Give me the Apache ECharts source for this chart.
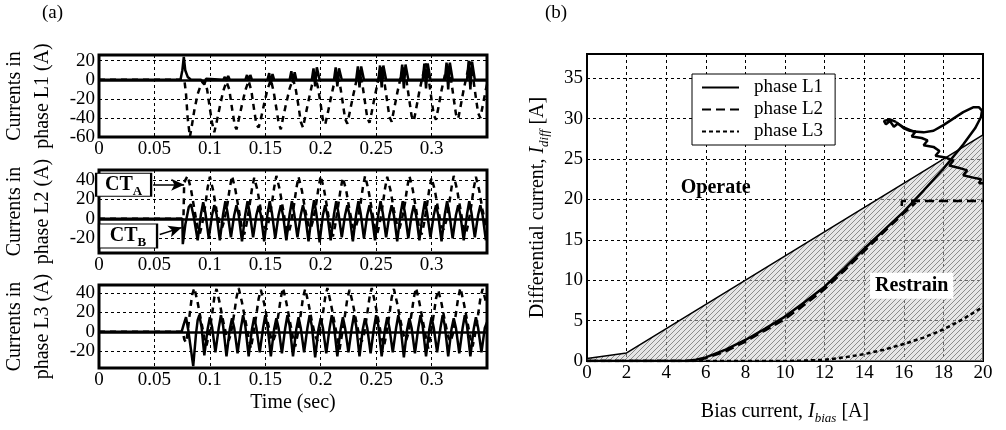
<!DOCTYPE html>
<html>
<head>
<meta charset="utf-8">
<script src="https://cdn.jsdelivr.net/npm/echarts@6/dist/echarts.min.js"></script>
<style>
html, body { margin: 0; padding: 0; background: #fff; }
#main { width: 1006px; height: 430px; }
</style>
</head>
<body>
<div id="main"></div>
<script>
// (a) currents in the three phases, [time (s), current (A)]
// solid = CT_B, dashed = CT_A
const l1CtB = [
  [0,0],[0.0735,0],[0.0752,10],[0.0765,24],[0.0778,10],[0.080,3],[0.083,0],
  [0.092,0],[0.0935,-2],[0.095,-5],[0.0965,1],[0.098,0],
  [0.112,0],[0.1135,3],[0.115,-1],[0.1165,4],[0.118,0],
  [0.132,0],[0.1335,5],[0.135,-1],[0.1365,5],[0.138,0],
  [0.152,0],[0.1535,7],[0.155,-5],[0.1565,6],[0.158,0],
  [0.172,0],[0.1735,9],[0.175,-3],[0.1765,8],[0.178,0],
  [0.192,0],[0.1935,12],[0.195,-7],[0.1965,13],[0.199,0],
  [0.212,0],[0.2135,13],[0.215,-7],[0.2165,12],[0.219,0],
  [0.232,0],[0.2335,14],[0.235,-8],[0.2365,14],[0.239,0],
  [0.252,0],[0.2535,15],[0.255,-8],[0.2565,15],[0.259,0],
  [0.272,0],[0.2735,16],[0.275,-9],[0.2765,16],[0.279,0],
  [0.292,0],[0.2935,17],[0.295,-9],[0.2965,17],[0.299,0],
  [0.312,0],[0.3135,18],[0.315,-10],[0.3165,18],[0.319,0],
  [0.332,0],[0.3335,20],[0.335,-10],[0.3365,19],[0.339,0],
  [0.35,0]
];
const l1CtA = [
  [0,0],[0.077,0],[0.0785,-15],[0.080,-40],[0.082,-60],[0.0835,-50],[0.086,-32],[0.089,-15],[0.092,-5],[0.095,-1],
  [0.0975,-10],[0.100,-30],[0.102,-45],[0.104,-55],[0.106,-45],[0.109,-28],[0.112,-12],[0.115,-2],
  [0.1175,-10],[0.120,-30],[0.1225,-48],[0.124,-52],[0.126,-42],[0.129,-26],[0.132,-11],[0.135,-1],
  [0.1375,-12],[0.140,-32],[0.142,-47],[0.144,-50],[0.146,-41],[0.149,-25],[0.152,-10],[0.155,0],
  [0.1575,-12],[0.160,-30],[0.162,-45],[0.164,-52],[0.166,-40],[0.169,-24],[0.172,-9],[0.175,1],
  [0.1775,-10],[0.180,-28],[0.182,-44],[0.184,-50],[0.186,-39],[0.189,-22],[0.192,-6],[0.195,4],
  [0.1975,-8],[0.200,-26],[0.202,-42],[0.204,-47],[0.206,-37],[0.209,-20],[0.212,-4],[0.215,7],
  [0.2175,-6],[0.220,-25],[0.222,-41],[0.224,-46],[0.226,-35],[0.229,-18],[0.232,-2],[0.235,10],
  [0.2375,-4],[0.240,-24],[0.242,-40],[0.244,-45],[0.246,-34],[0.249,-16],[0.252,0],[0.255,13],
  [0.2575,-3],[0.260,-23],[0.262,-39],[0.264,-44],[0.266,-32],[0.269,-14],[0.272,2],[0.275,15],
  [0.2775,-2],[0.280,-22],[0.282,-38],[0.284,-43],[0.286,-31],[0.289,-12],[0.292,4],[0.295,17],
  [0.2975,0],[0.300,-21],[0.302,-37],[0.304,-42],[0.306,-30],[0.309,-11],[0.312,5],[0.315,18],
  [0.3175,1],[0.320,-20],[0.322,-36],[0.324,-41],[0.326,-29],[0.329,-10],[0.332,6],[0.335,19],
  [0.3375,2],[0.340,-19],[0.342,-35],[0.344,-40],[0.346,-28],[0.349,-10],[0.35,-5]
];
const l2CtB = [
  [0,0],[0.0752,0],[0.0756,-26],[0.078,-5],[0.081,12],[0.083,15],[0.0855,2],
  [0.089,-22],[0.092,5],[0.094,17],[0.096,6],
  [0.099,-20],[0.102,4],[0.104,14],[0.106,5],
  [0.109,-22],[0.112,5],[0.114,18],[0.116,6],
  [0.119,-19],[0.122,4],[0.124,14],[0.126,4],
  [0.129,-23],[0.132,5],[0.134,18],[0.136,6],
  [0.139,-19],[0.142,4],[0.144,13],[0.146,4],
  [0.149,-23],[0.152,5],[0.154,18],[0.156,6],
  [0.159,-20],[0.162,4],[0.164,14],[0.166,4],
  [0.169,-22],[0.172,5],[0.174,18],[0.176,6],
  [0.179,-19],[0.182,4],[0.184,14],[0.186,4],
  [0.189,-23],[0.192,5],[0.194,19],[0.196,6],
  [0.199,-24],[0.202,4],[0.204,14],[0.206,4],
  [0.209,-22],[0.212,5],[0.214,18],[0.216,6],
  [0.219,-19],[0.222,4],[0.224,14],[0.226,4],
  [0.229,-23],[0.232,5],[0.234,18],[0.236,6],
  [0.239,-20],[0.242,4],[0.244,14],[0.246,4],
  [0.249,-22],[0.252,5],[0.254,18],[0.256,6],
  [0.259,-19],[0.262,4],[0.264,14],[0.266,4],
  [0.269,-23],[0.272,5],[0.274,18],[0.276,6],
  [0.279,-20],[0.282,4],[0.284,14],[0.286,4],
  [0.289,-22],[0.292,5],[0.294,18],[0.296,6],
  [0.299,-19],[0.302,4],[0.304,14],[0.306,4],
  [0.309,-23],[0.312,5],[0.314,18],[0.316,6],
  [0.319,-20],[0.322,4],[0.324,14],[0.326,4],
  [0.329,-22],[0.332,5],[0.334,18],[0.336,6],
  [0.339,-19],[0.342,4],[0.344,14],[0.346,4],
  [0.349,-22]
];
const l2CtA = [
  [0,0],[0.0762,0],[0.0768,36],[0.078,40],
  [0.080,44],[0.083,30],[0.086,10],[0.089,-10],[0.091,-15],[0.093,-6],[0.096,15],[0.098,32],
  [0.100,43],[0.103,29],[0.106,9],[0.109,-6],[0.111,-9],[0.113,-2],[0.116,16],[0.118,32],
  [0.120,44],[0.123,30],[0.126,10],[0.129,-10],[0.131,-16],[0.133,-6],[0.136,15],[0.138,31],
  [0.140,42],[0.143,29],[0.146,9],[0.149,-8],[0.151,-11],[0.153,-3],[0.156,16],[0.158,32],
  [0.160,44],[0.163,30],[0.166,10],[0.169,-10],[0.171,-15],[0.173,-6],[0.176,15],[0.178,31],
  [0.180,43],[0.183,29],[0.186,9],[0.189,-7],[0.191,-10],[0.193,-2],[0.196,16],[0.198,32],
  [0.200,44],[0.203,30],[0.206,10],[0.209,-12],[0.211,-18],[0.213,-7],[0.216,15],[0.218,31],
  [0.220,42],[0.223,29],[0.226,9],[0.229,-8],[0.231,-11],[0.233,-3],[0.236,16],[0.238,32],
  [0.240,44],[0.243,30],[0.246,10],[0.249,-10],[0.251,-15],[0.253,-6],[0.256,15],[0.258,31],
  [0.260,43],[0.263,29],[0.266,9],[0.269,-7],[0.271,-10],[0.273,-2],[0.276,16],[0.278,32],
  [0.280,44],[0.283,30],[0.286,10],[0.289,-11],[0.291,-16],[0.293,-6],[0.296,15],[0.298,31],
  [0.300,42],[0.303,29],[0.306,9],[0.309,-8],[0.311,-11],[0.313,-3],[0.316,16],[0.318,32],
  [0.320,44],[0.323,30],[0.326,10],[0.329,-10],[0.331,-15],[0.333,-6],[0.336,15],[0.338,31],
  [0.340,43],[0.343,29],[0.346,9],[0.349,-7],[0.35,-9]
];
const l3CtB = [
  [0,0],[0.0745,0],[0.0765,8],[0.0785,15],[0.0805,2],[0.085,-35],
  [0.0875,-2],[0.089,12],[0.0905,17],[0.0925,5],
  [0.095,-24],[0.098,3],[0.100,15],[0.102,5],
  [0.105,-21],[0.108,4],[0.110,17],[0.112,6],
  [0.115,-25],[0.118,3],[0.120,14],[0.122,4],
  [0.125,-22],[0.128,4],[0.130,17],[0.132,6],
  [0.135,-25],[0.138,3],[0.140,15],[0.142,4],
  [0.145,-21],[0.148,4],[0.150,17],[0.152,6],
  [0.155,-25],[0.158,3],[0.160,14],[0.162,4],
  [0.165,-22],[0.168,4],[0.170,17],[0.172,6],
  [0.175,-25],[0.178,3],[0.180,15],[0.182,4],
  [0.185,-21],[0.188,4],[0.190,17],[0.192,6],
  [0.195,-26],[0.198,3],[0.200,14],[0.202,4],
  [0.205,-22],[0.208,4],[0.210,17],[0.212,6],
  [0.215,-25],[0.218,3],[0.220,15],[0.222,4],
  [0.225,-21],[0.228,4],[0.230,17],[0.232,6],
  [0.235,-25],[0.238,3],[0.240,14],[0.242,4],
  [0.245,-22],[0.248,4],[0.250,17],[0.252,6],
  [0.255,-25],[0.258,3],[0.260,15],[0.262,4],
  [0.265,-21],[0.268,4],[0.270,17],[0.272,6],
  [0.275,-26],[0.278,3],[0.280,14],[0.282,4],
  [0.285,-22],[0.288,4],[0.290,17],[0.292,6],
  [0.295,-25],[0.298,3],[0.300,15],[0.302,4],
  [0.305,-21],[0.308,4],[0.310,17],[0.312,6],
  [0.315,-25],[0.318,3],[0.320,14],[0.322,4],
  [0.325,-22],[0.328,4],[0.330,17],[0.332,6],
  [0.335,-25],[0.338,3],[0.340,15],[0.342,4],
  [0.345,-21],[0.348,4],[0.35,10]
];
const l3CtA = [
  [0,0],[0.0755,0],[0.077,-8],[0.0785,-11],[0.080,0],[0.082,20],[0.084,38],
  [0.086,45],[0.089,30],[0.092,12],[0.095,-6],[0.097,-14],[0.099,-4],[0.102,18],[0.104,35],
  [0.106,44],[0.109,29],[0.112,11],[0.115,-4],[0.117,-9],[0.119,-2],[0.122,19],[0.124,35],
  [0.126,45],[0.129,30],[0.132,12],[0.135,-6],[0.137,-17],[0.139,-4],[0.142,18],[0.144,34],
  [0.146,43],[0.149,29],[0.152,11],[0.155,-5],[0.157,-10],[0.159,-3],[0.162,19],[0.164,35],
  [0.166,45],[0.169,30],[0.172,12],[0.175,-6],[0.177,-15],[0.179,-4],[0.182,18],[0.184,35],
  [0.186,44],[0.189,29],[0.192,11],[0.195,-4],[0.197,-9],[0.199,-2],[0.202,19],[0.204,35],
  [0.206,45],[0.209,30],[0.212,12],[0.215,-6],[0.217,-18],[0.219,-4],[0.222,18],[0.224,34],
  [0.226,43],[0.229,29],[0.232,11],[0.235,-5],[0.237,-10],[0.239,-3],[0.242,19],[0.244,35],
  [0.246,45],[0.249,30],[0.252,12],[0.255,-6],[0.257,-15],[0.259,-4],[0.262,18],[0.264,35],
  [0.266,44],[0.269,29],[0.272,11],[0.275,-4],[0.277,-9],[0.279,-2],[0.282,19],[0.284,35],
  [0.286,45],[0.289,30],[0.292,12],[0.295,-6],[0.297,-17],[0.299,-4],[0.302,18],[0.304,34],
  [0.306,43],[0.309,29],[0.312,11],[0.315,-5],[0.317,-10],[0.319,-3],[0.322,19],[0.324,35],
  [0.326,45],[0.329,30],[0.332,12],[0.335,-6],[0.337,-15],[0.339,-4],[0.342,18],[0.344,34],
  [0.346,44],[0.349,31],[0.35,27]
];
const yTicksL2 = [-20, 0, 20, 40];
const yTicksL3 = [-20, 0, 20, 40];

// (b) differential current vs bias current, [I_bias, I_diff]
const charCurve = [[0,0.3],[2,1],[20,28]];
const l1Bias = [
  [0,0],[5,0],[5.5,0.15],[6,0.45],[7,1.4],[8,2.6],[9,4],[10,5.5],[11,7.3],[12,9.2],[13,11.5],
  [14,13.9],[15,16.2],[16,18.5],[17,21.1],[18,23.8],[19,26.8],[19.6,28.8],[19.9,30.2],[19.95,31.0],
  [19.8,31.4],[19.5,31.4],[19.0,30.8],[18.5,30.0],[18.0,29.2],[17.5,28.5],[17.0,28.3],[16.5,28.4],
  [16.0,28.9],[15.7,29.4],[15.5,29.0],[15.3,29.7],[15.1,29.3],[15.0,29.7],[15.3,29.9],[15.6,29.6]
];
const l1BiasTail = [
  [15.6,29.6],[16.0,28.8],[16.3,28.5],[16.6,28.4],[16.4,27.8],[16.9,27.6],[17.2,27.3],[17.0,26.7],
  [17.5,26.5],[17.8,26.0],[17.6,25.4],[18.1,25.2],[18.5,24.8],[18.3,24.2],[18.8,23.9],[19.2,23.6],
  [19.0,23.0],[19.5,22.7],[19.9,22.5],[19.8,22.0],[20,22.0]
];
const l2Bias = [
  [0,0],[5.5,0],[6,0.35],[7,1.2],[8,2.4],[9,3.8],[10,5.2],[11,7.0],[12,8.9],[13,11.2],
  [14,13.6],[15,16.0],[16,18.3],[16.6,19.6]
];
const l2BiasFlat = [[15.9,19.2],[15.9,19.8],[20,19.8]];
const l3Bias = [
  [0,0],[8,0],[10,0],[11,0.05],[12,0.15],[13,0.45],[14,0.85],[15,1.4],[16,2.1],[17,2.9],
  [18,3.9],[19,5.2],[20,6.7]
];

var chart = echarts.init(document.getElementById('main'));
var font = '"Liberation Serif", "Times New Roman", serif';
var black = '#000';

// hatched fill for the restrain area
var hatch = document.createElement('canvas');
hatch.width = 5; hatch.height = 5;
var hc = hatch.getContext('2d');
hc.fillStyle = 'rgba(205,205,205,0.5)';
hc.fillRect(0, 0, 5, 5);
hc.strokeStyle = 'rgba(110,110,110,0.75)';
hc.lineWidth = 1;
hc.beginPath(); hc.moveTo(0, 5); hc.lineTo(5, 0); hc.stroke();
hc.beginPath(); hc.moveTo(-1, 1); hc.lineTo(1, -1); hc.stroke();
hc.beginPath(); hc.moveTo(4, 6); hc.lineTo(6, 4); hc.stroke();

var gridLine = { show: true, lineStyle: { color: black, type: [3, 3], width: 1 } };
var tickFont = { color: black, fontFamily: font, fontSize: 19 };

function leftX(i, name) {
  return {
    type: 'value', gridIndex: i, min: 0, max: 0.35, interval: 0.05,
    axisLine: { show: false }, axisTick: { show: false },
    axisLabel: Object.assign({ margin: 3, showMaxLabel: false }, tickFont),
    splitLine: gridLine,
    name: name || '', nameLocation: 'middle', nameGap: 25,
    nameTextStyle: { color: black, fontFamily: font, fontSize: 20 }
  };
}
function leftY(i, phase, min, max, ticks) {
  var ax = {
    type: 'value', gridIndex: i, min: min, max: max,
    axisLine: { show: false },
    axisTick: { show: false },
    axisLabel: Object.assign({ margin: 4, showMaxLabel: !!ticks, showMinLabel: true }, tickFont),
    splitLine: gridLine,
    name: 'Currents in\nphase ' + phase + ' (A)', nameLocation: 'middle', nameRotate: 90, nameGap: 42,
    nameTextStyle: { color: black, fontFamily: font, fontSize: 20, lineHeight: 28 }
  };
  if (ticks) {
    ax.axisLabel.customValues = ticks;
    ax.axisTick.customValues = ticks;
  } else {
    ax.interval = 20;
  }
  return ax;
}
var zeroLine = {
  silent: true, symbol: ['none', 'none'], label: { show: false }, animation: false,
  lineStyle: { color: black, type: 'solid', width: 2.5 }, data: [{ yAxis: 0 }]
};
function wave(i, data, dashed, extra) {
  return Object.assign({
    type: 'line', xAxisIndex: i, yAxisIndex: i, data: data, symbol: 'none',
    animation: false, silent: true,
    lineStyle: { color: black, width: 2.5, type: dashed ? [6, 5] : 'solid' }
  }, extra || {});
}
var ctRich = {
  b: { fontFamily: font, fontSize: 20, fontWeight: 'bold', color: black, lineHeight: 20 },
  s: { fontFamily: font, fontSize: 13, fontWeight: 'bold', color: black, verticalAlign: 'bottom', lineHeight: 26 }
};
var subRich = {
  i: { fontFamily: font, fontSize: 20, fontStyle: 'italic', color: black, lineHeight: 20 },
  s: { fontFamily: font, fontSize: 13, fontStyle: 'italic', color: black, verticalAlign: 'bottom', lineHeight: 27 }
};
function biasLine(name, data, type) {
  return {
    name: name, type: 'line', xAxisIndex: 3, yAxisIndex: 3, data: data,
    symbol: 'none', silent: true, animation: false,
    itemStyle: { color: black },
    lineStyle: { color: black, width: 2.5, type: type }
  };
}

var option = {
  backgroundColor: '#fff',
  animation: false,
  title: [
    { text: '(a)', left: 42, top: 4, padding: 0, textStyle: { fontFamily: font, fontSize: 19, fontWeight: 'normal', color: black } },
    { text: '(b)', left: 545, top: 4, padding: 0, textStyle: { fontFamily: font, fontSize: 19, fontWeight: 'normal', color: black } }
  ],
  legend: {
    data: ['phase L1', 'phase L2', 'phase L3'],
    orient: 'vertical', left: 692, top: 74, selectedMode: false,
    backgroundColor: '#fff', borderColor: black, borderWidth: 1,
    padding: [4, 12, 4, 9], itemGap: 3, itemWidth: 37, itemHeight: 16,
    itemStyle: { color: 'rgba(0,0,0,0)', borderColor: 'rgba(0,0,0,0)', borderWidth: 0 },
    textStyle: { fontFamily: font, fontSize: 19, color: black, padding: [0, 0, 0, 10] }
  },
  grid: [
    { left: 93, top: 55, width: 394, height: 82, show: true, borderColor: black, borderWidth: 3 },
    { left: 93, top: 170, width: 394, height: 83, show: true, borderColor: black, borderWidth: 3 },
    { left: 93, top: 285, width: 394, height: 83, show: true, borderColor: black, borderWidth: 3 },
    { left: 587, top: 54, width: 396, height: 318, show: true, borderColor: black, borderWidth: 2 }
  ],
  xAxis: [
    leftX(0), leftX(1), leftX(2, 'Time (sec)'),
    {
      type: 'value', gridIndex: 3, min: 0, max: 20, interval: 2,
      axisLine: { show: false }, axisTick: { show: false },
      axisLabel: Object.assign({ margin: 3 }, tickFont),
      splitLine: gridLine,
      name: 'Bias current, {i|I}{s|bias} [A]', nameLocation: 'middle', nameGap: 37,
      nameTextStyle: { color: black, fontFamily: font, fontSize: 20, rich: subRich }
    }
  ],
  yAxis: [
    leftY(0, 'L1', -60, 26),
    leftY(1, 'L2', -35, 50, yTicksL2),
    leftY(2, 'L3', -37, 48, yTicksL3),
    {
      type: 'value', gridIndex: 3, min: 0, max: 38, interval: 5,
      axisLine: { show: false }, axisTick: { show: false },
      axisLabel: Object.assign({ margin: 4, showMaxLabel: false }, tickFont),
      splitLine: gridLine,
      name: 'Differential current, {i|I}{s|diff} [A]', nameLocation: 'middle', nameRotate: 90, nameGap: 36,
      nameTextStyle: { color: black, fontFamily: font, fontSize: 20, rich: subRich }
    }
  ],
  series: [
    wave(0, l1CtB, false, { name: 'L1 CT_B', markLine: zeroLine }),
    wave(0, l1CtA, true, { name: 'L1 CT_A' }),
    wave(1, l2CtB, false, { name: 'L2 CT_B', markLine: zeroLine }),
    wave(1, l2CtA, true, {
      name: 'L2 CT_A',
      markLine: {
        silent: true, animation: false, symbol: ['none', 'arrow'], symbolSize: [9, 13],
        label: { show: false }, lineStyle: { color: black, type: 'solid', width: 1.5 },
        data: [
          [{ coord: [0.0488, 35] }, { coord: [0.0768, 35] }],
          [{ coord: [0.0548, -16] }, { coord: [0.0745, -9] }]
        ]
      },
      markPoint: {
        silent: true, animation: false, symbol: 'rect',
        itemStyle: { color: '#fff', borderColor: black, borderWidth: 1.5 },
        label: {
          show: true, position: 'inside',
          formatter: function (p) { return '{b|CT}{s|' + p.name + '}'; },
          rich: ctRich
        },
        data: [
          { name: 'A', coord: [0.0222, 35], symbolSize: [55, 23] },
          { name: 'B', coord: [0.0262, -17.5], symbolSize: [58, 24] }
        ]
      }
    }),
    wave(2, l3CtB, false, { name: 'L3 CT_B', markLine: zeroLine }),
    wave(2, l3CtA, true, { name: 'L3 CT_A' }),
    {
      name: 'characteristic', type: 'line', xAxisIndex: 3, yAxisIndex: 3, data: charCurve,
      symbol: 'none', silent: true, animation: false,
      lineStyle: { color: black, width: 1.5 },
      areaStyle: { color: { image: hatch, repeat: 'repeat' }, opacity: 1 },
      markPoint: {
        silent: true, animation: false, symbol: 'rect', symbolSize: 1,
        itemStyle: { color: 'rgba(0,0,0,0)' },
        label: { show: true, position: 'inside', fontFamily: font, fontSize: 20, fontWeight: 'bold', color: black },
        data: [
          { name: 'Operate', coord: [6.5, 21.4], label: { formatter: 'Operate' } },
          { name: 'Restrain', coord: [16.4, 9.3], label: { formatter: 'Restrain', backgroundColor: '#fff', padding: [3, 5] } }
        ]
      }
    },
    biasLine('phase L3', l3Bias, [4, 3]),
    biasLine('phase L2', l2Bias, [9, 5]),
    biasLine('phase L2', l2BiasFlat, [9, 5]),
    biasLine('phase L1', l1Bias, 'solid'),
    biasLine('phase L1', l1BiasTail, 'solid')
  ]
};
chart.setOption(option);
</script>
</body>
</html>
